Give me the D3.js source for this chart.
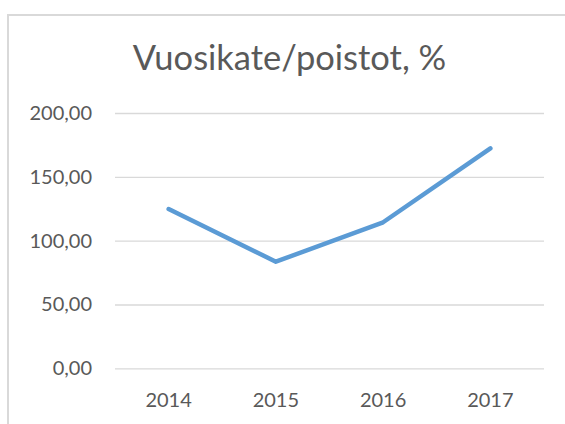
<!DOCTYPE html>
<html>
<head>
<meta charset="utf-8">
<script src="https://cdn.jsdelivr.net/npm/d3@7"></script>
<style>
  html, body { margin: 0; padding: 0; background: #fff; }
  svg { display: block; }
  text { font-family: Lato, "Open Sans", sans-serif; fill: #595959; }
</style>
</head>
<body>
<script>
const title = "Vuosikate/poistot, %";
const years = ["2014", "2015", "2016", "2017"];
const values = [124.8, 83.5, 114.4, 172.3];
const yTicks = [0, 50, 100, 150, 200];

const W = 565, H = 424;
const svg = d3.select("body").append("svg").attr("width", W).attr("height", H);

// chart border (extends past the right and bottom edges)
svg.append("rect")
  .attr("x", 8).attr("y", 15)
  .attr("width", W + 20).attr("height", H + 20)
  .attr("fill", "#fff").attr("stroke", "#D9D9D9").attr("stroke-width", 2);

const x = d3.scaleBand().domain(years).range([115, 544]);
const y = d3.scaleLinear().domain([0, 200]).range([368.3, 113]);

// title
svg.append("text")
  .attr("x", 289.5).attr("y", 69.5)
  .attr("text-anchor", "middle")
  .attr("font-size", 34.5)
  .text(title);

// gridlines + y labels
const yAxis = d3.axisLeft(y).tickValues(yTicks)
  .tickSize(-(544 - 115))
  .tickPadding(23)
  .tickFormat(d => d3.format(".2f")(d).replace(".", ","));
const gy = svg.append("g").attr("transform", "translate(115,0)").call(yAxis);
gy.select(".domain").remove();
gy.selectAll(".tick line").attr("stroke", "#D9D9D9").attr("stroke-width", 1.3);
gy.selectAll(".tick text").attr("font-size", 20).attr("fill", "#595959")
  .style("font-family", "Lato, 'Open Sans', sans-serif");

// x labels
const xAxis = d3.axisBottom(x).tickSize(0).tickPadding(0);
const gx = svg.append("g").attr("transform", "translate(0,368.3)").call(xAxis);
gx.select(".domain").remove();
gx.selectAll(".tick text").attr("font-size", 20).attr("fill", "#595959")
  .attr("dy", null).attr("y", 39)
  .style("font-family", "Lato, 'Open Sans', sans-serif");

// line
const line = d3.line()
  .x((d, i) => x(years[i]) + x.bandwidth() / 2)
  .y(d => y(d));
svg.append("path")
  .datum(values)
  .attr("d", line)
  .attr("fill", "none")
  .attr("stroke", "#5B9BD5")
  .attr("stroke-width", 4.5)
  .attr("stroke-linecap", "round")
  .attr("stroke-linejoin", "round");
</script>
</body>
</html>
